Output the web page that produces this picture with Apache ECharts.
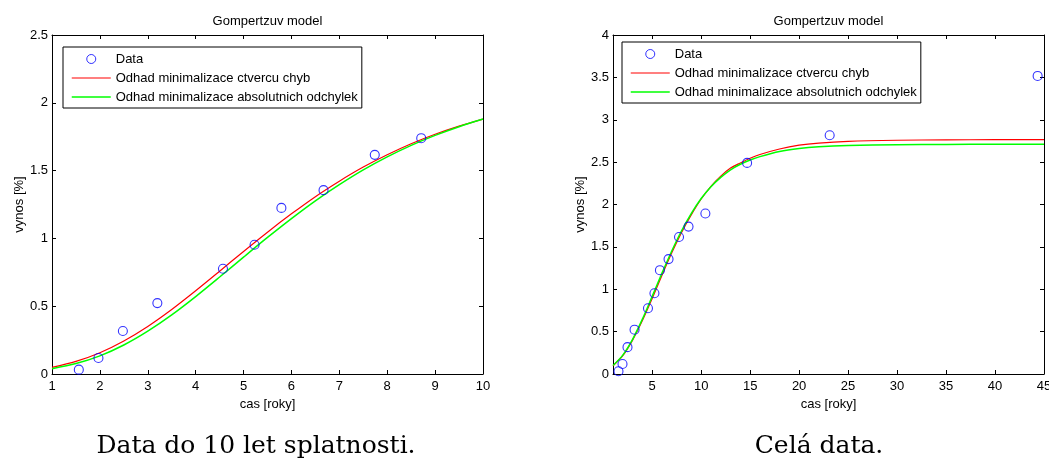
<!DOCTYPE html>
<html>
<head>
<meta charset="utf-8">
<script src="https://cdn.jsdelivr.net/npm/echarts@6/dist/echarts.min.js"></script>
<style>
html,body{margin:0;padding:0;background:#fff;}
#c{width:1049px;height:464px;}
</style>
</head>
<body>
<div id="c"></div>
<script>
// Observed data (cas [roky], vynos [%])
const dataX = [1.56, 1.97, 2.48, 3.20, 4.57, 5.23, 5.79, 6.67, 7.74, 8.71, 10.43, 14.69, 23.12, 44.35];
const dataY = [0.032, 0.118, 0.317, 0.523, 0.776, 0.953, 1.225, 1.356, 1.616, 1.739, 1.894, 2.491, 2.817, 3.517];
const shortCount = 10; // data up to 10 years

// Left chart fitted curves
const fitShortX = [1, 1.5, 2, 2.5, 3, 3.5, 4, 4.5, 5, 5.5, 6, 6.5, 7, 7.5, 8, 8.5, 9, 9.5, 10];
const fitShortRed = [0.049, 0.093, 0.157, 0.244, 0.351, 0.476, 0.614, 0.758, 0.904, 1.046, 1.181, 1.308, 1.422, 1.526, 1.617, 1.698, 1.768, 1.828, 1.880];
const fitShortGreen = [0.039, 0.077, 0.134, 0.214, 0.316, 0.436, 0.571, 0.715, 0.862, 1.007, 1.146, 1.277, 1.396, 1.505, 1.601, 1.686, 1.760, 1.824, 1.880];

// Right chart fitted curves
const fitAllX = [1, 2, 3, 4, 5, 6, 7, 8, 9, 10, 11, 12, 13, 14, 15, 16, 18, 20, 22, 25, 30, 35, 40, 45];
const fitAllRed = [0.098, 0.216, 0.40, 0.63, 0.89, 1.165, 1.43, 1.67, 1.88, 2.065, 2.215, 2.335, 2.43, 2.49, 2.545, 2.59, 2.655, 2.70, 2.725, 2.745, 2.758, 2.763, 2.765, 2.766];
const fitAllGreen = [0.10, 0.223, 0.409, 0.647, 0.916, 1.19, 1.452, 1.69, 1.895, 2.07, 2.21, 2.32, 2.41, 2.475, 2.525, 2.565, 2.625, 2.66, 2.68, 2.695, 2.705, 2.709, 2.71, 2.711];

// Tick values
const rightXTicks = [5, 10, 15, 20, 25, 30, 35, 40, 45];

const names = ['Data', 'Odhad minimalizace ctvercu chyb', 'Odhad minimalizace absolutnich odchylek'];
const titleText = 'Gompertzuv model';
const xName = 'cas [roky]';
const yName = 'vynos [%]';
const captions = ['Data do 10 let splatnosti.', 'Celá data.'];

const FONT = 'Liberation Sans, Arial, Helvetica, sans-serif';
const pairs = (xs, ys) => xs.map((x, i) => [x, ys[i]]);

const chart = echarts.init(document.getElementById('c'), null, {renderer: 'canvas'});

function mainX(grid, min, max, extra) {
  return Object.assign({
    type: 'value', gridIndex: grid, min: min, max: max, position: 'bottom',
    name: xName, nameLocation: 'middle', nameGap: 21,
    nameTextStyle: {fontFamily: FONT, fontSize: 13, color: '#000'},
    axisLine: {show: true, onZero: false, lineStyle: {color: '#000', width: 1}},
    axisTick: {show: true, inside: true, length: 4, lineStyle: {color: '#000'}},
    axisLabel: {show: true, margin: 6, fontFamily: FONT, fontSize: 13, color: '#000', showMinLabel: true, showMaxLabel: true, hideOverlap: false},
    splitLine: {show: false}
  }, extra || {});
}
function topX(grid, min, max, extra) {
  return Object.assign({
    type: 'value', gridIndex: grid, min: min, max: max, position: 'top',
    axisLine: {show: true, onZero: false, lineStyle: {color: '#000', width: 1}},
    axisTick: {show: true, inside: true, length: 4, lineStyle: {color: '#000'}},
    axisLabel: {show: false},
    splitLine: {show: false}
  }, extra || {});
}
function mainY(grid, max) {
  return {
    type: 'value', gridIndex: grid, min: 0, max: max, interval: 0.5, position: 'left',
    name: yName, nameLocation: 'middle', nameGap: 26, nameRotate: 90,
    nameTextStyle: {fontFamily: FONT, fontSize: 13, color: '#000'},
    axisLine: {show: true, onZero: false, lineStyle: {color: '#000', width: 1}},
    axisTick: {show: true, inside: true, length: 4, lineStyle: {color: '#000'}},
    axisLabel: {show: true, margin: 4, fontFamily: FONT, fontSize: 13, color: '#000', showMinLabel: true, showMaxLabel: true},
    splitLine: {show: false}
  };
}
function rightY(grid, max) {
  return {
    type: 'value', gridIndex: grid, min: 0, max: max, interval: 0.5, position: 'right',
    axisLine: {show: true, onZero: false, lineStyle: {color: '#000', width: 1}},
    axisTick: {show: true, inside: true, length: 4, lineStyle: {color: '#000'}},
    axisLabel: {show: false},
    splitLine: {show: false}
  };
}

const customTicks = {
  axisTick: {show: true, inside: true, length: 4, lineStyle: {color: '#000'}, customValues: rightXTicks},
};

const hiddenSymbol = {color: 'rgba(0,0,0,0)', borderColor: 'rgba(0,0,0,0)', borderWidth: 0, opacity: 0};

function legendAt(left, top, padding) {
  return {
    left: left, top: top, orient: 'vertical', selectedMode: false,
    backgroundColor: '#fff', borderColor: '#000', borderWidth: 1,
    padding: padding, itemGap: 5, itemWidth: 39, itemHeight: 9,
    textStyle: {fontFamily: FONT, fontSize: 13, color: '#000', lineHeight: 14},
    data: [
      {name: names[0], icon: 'circle', itemStyle: {color: 'rgba(0,0,0,0)', borderColor: '#0000ff', borderWidth: 1}},
      {name: names[1], itemStyle: hiddenSymbol, lineStyle: {color: '#ff0000', width: 1.2}},
      {name: names[2], itemStyle: hiddenSymbol, lineStyle: {color: '#00ff00', width: 1.5}}
    ]
  };
}

function scatter(xi, yi, xs, ys) {
  return {
    name: names[0], type: 'scatter', xAxisIndex: xi, yAxisIndex: yi,
    data: pairs(xs, ys), symbol: 'circle', symbolSize: 9, z: 3,
    itemStyle: {color: 'rgba(0,0,0,0)', borderColor: '#0000ff', borderWidth: 1.1},
    emphasis: {disabled: true}, silent: true
  };
}
function line(name, color, width, xi, yi, xs, ys) {
  return {
    name: name, type: 'line', xAxisIndex: xi, yAxisIndex: yi,
    data: pairs(xs, ys), symbol: 'none', smooth: 0.3, z: 2,
    itemStyle: {color: color}, lineStyle: {color: color, width: width},
    emphasis: {disabled: true}, silent: true, animation: false
  };
}

const option = {
  animation: false,
  backgroundColor: '#fff',
  grid: [
    {left: 52, top: 35, width: 431, height: 339, containLabel: false, outerBoundsMode: 'none'},
    {left: 613, top: 35, width: 431, height: 339, containLabel: false, outerBoundsMode: 'none'}
  ],
  xAxis: [
    mainX(0, 1, 10, {interval: 1}),
    topX(0, 1, 10, {interval: 1}),
    mainX(1, 1, 45, {
      axisTick: customTicks.axisTick,
      axisLabel: {show: true, margin: 6, fontFamily: FONT, fontSize: 13, color: '#000', customValues: rightXTicks, hideOverlap: false}
    }),
    topX(1, 1, 45, {axisTick: customTicks.axisTick})
  ],
  yAxis: [
    mainY(0, 2.5),
    rightY(0, 2.5),
    mainY(1, 4),
    rightY(1, 4)
  ],
  legend: [
    legendAt(63, 47, [5, 4, 4, 8]),
    legendAt(622, 42, [5, 4, 4, 8])
  ],
  series: [
    scatter(0, 0, dataX.slice(0, shortCount), dataY.slice(0, shortCount)),
    line(names[1], '#ff0000', 1.2, 0, 0, fitShortX, fitShortRed),
    line(names[2], '#00ff00', 1.5, 0, 0, fitShortX, fitShortGreen),
    scatter(2, 2, dataX, dataY),
    line(names[1], '#ff0000', 1.2, 2, 2, fitAllX, fitAllRed),
    line(names[2], '#00ff00', 1.5, 2, 2, fitAllX, fitAllGreen)
  ],
  graphic: [
    {type: 'text', x: 267.5, y: 21, silent: true,
      style: {text: titleText, fontFamily: FONT, fontSize: 13, fill: '#000', align: 'center', verticalAlign: 'middle'}},
    {type: 'text', x: 828.5, y: 21, silent: true,
      style: {text: titleText, fontFamily: FONT, fontSize: 13, fill: '#000', align: 'center', verticalAlign: 'middle'}},
    {type: 'text', x: 256, y: 446, silent: true,
      style: {text: captions[0], fontFamily: 'DejaVu Serif, serif', fontSize: 25, fill: '#000', align: 'center', verticalAlign: 'middle'}},
    {type: 'text', x: 819, y: 446, silent: true,
      style: {text: captions[1], fontFamily: 'DejaVu Serif, serif', fontSize: 25, fill: '#000', align: 'center', verticalAlign: 'middle'}}
  ]
};
chart.setOption(option);
</script>
</body>
</html>
